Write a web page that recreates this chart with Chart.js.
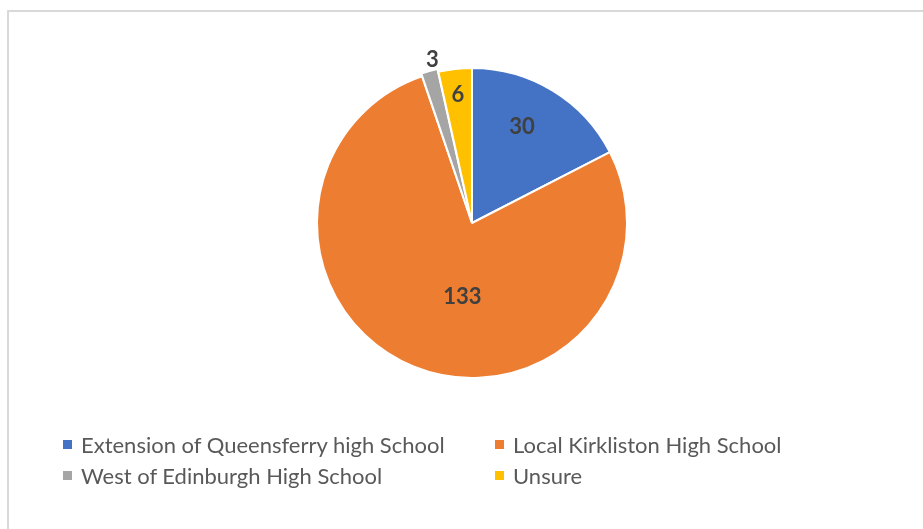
<!DOCTYPE html>
<html>
<head>
<meta charset="utf-8">
<script src="https://cdn.jsdelivr.net/npm/chart.js@4.4.1/dist/chart.umd.min.js"></script>
<style>
    html, body { margin: 0; padding: 0; background: #fff; }
    #wrap { position: relative; width: 923px; height: 529px; overflow: hidden; }
    #frame {
        position: absolute; left: 7px; top: 10px; width: 940px; height: 560px;
        border: 2px solid #d9d9d9; box-sizing: border-box;
    }
    #pie { position: absolute; left: 0; top: 0; }
    #legend {
        position: absolute; left: 63px; top: 431px;
        display: grid; grid-template-columns: 432px auto; row-gap: 4px;
        font-family: Lato, 'Open Sans', sans-serif; font-size: 22px; color: #595959;
    }
    .item { display: flex; align-items: center; height: 27px; white-space: nowrap; }
    .box { width: 9px; height: 9px; margin-right: 9px; }
</style>
</head>
<body>
<div id="wrap">
    <div id="frame"></div>
    <canvas id="pie" width="923" height="529"></canvas>
    <div id="legend"></div>
</div>
<script>
// Data
const labels = [
    'Extension of Queensferry high School',
    'Local Kirkliston High School',
    'West of Edinburgh High School',
    'Unsure'
];
const values = [30, 133, 3, 6];
const colors = ['#4472C4', '#ED7D31', '#A5A5A5', '#FFC000'];
const offsets = [0, 0, 6, 0];

// where each value label sits: fraction of the radius, and turn off the mid angle (deg)
const labelRadius = [0.70, 0.48, 1.08, 0.83];
const labelTurn = [-4, -14.5, 2, 0];

// Value labels drawn on the slices
const valueLabels = {
    id: 'valueLabels',
    afterDatasetsDraw(chart) {
        const ctx = chart.ctx;
        const meta = chart.getDatasetMeta(0);
        ctx.save();
        ctx.font = 'bold 22px Lato, "Open Sans", sans-serif';
        ctx.fillStyle = '#404040';
        ctx.textAlign = 'center';
        ctx.textBaseline = 'middle';
        meta.data.forEach((arc, i) => {
            const p = arc.getProps(['x', 'y', 'startAngle', 'endAngle', 'outerRadius']);
            const mid = (p.startAngle + p.endAngle) / 2 + labelTurn[i] * Math.PI / 180;
            const r = p.outerRadius * labelRadius[i];
            ctx.fillText(String(values[i]), p.x + Math.cos(mid) * r, p.y + Math.sin(mid) * r);
        });
        ctx.restore();
    }
};

new Chart(document.getElementById('pie'), {
    type: 'pie',
    data: {
        labels: labels,
        datasets: [{
            data: values,
            backgroundColor: colors,
            borderColor: '#ffffff',
            borderWidth: 2,
            offset: offsets
        }]
    },
    options: {
        responsive: false,
        animation: false,
        layout: { padding: { top: 64, bottom: 147, left: 313, right: 292 } },
        plugins: {
            legend: { display: false },
            tooltip: { enabled: false }
        }
    },
    plugins: [valueLabels]
});

// Legend
const legendEl = document.getElementById('legend');
labels.forEach((name, i) => {
    const item = document.createElement('div');
    item.className = 'item';
    item.innerHTML = `<span class="box" style="background:${colors[i]}"></span><span>${name}</span>`;
    legendEl.appendChild(item);
});
</script>
</body>
</html>
